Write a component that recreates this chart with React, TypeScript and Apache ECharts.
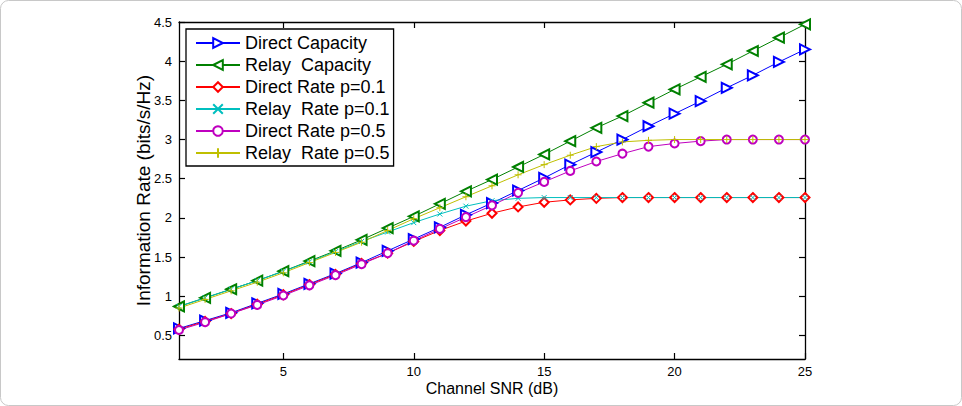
import React, { useEffect, useRef } from "react";
import * as echarts from "echarts";

const snr = [1, 2, 3, 4, 5, 6, 7, 8, 9, 10, 11, 12, 13, 14, 15, 16, 17, 18, 19, 20, 21, 22, 23, 24, 25];
const xTicks = [5, 10, 15, 20, 25];
const yTicks = [0.5, 1, 1.5, 2, 2.5, 3, 3.5, 4, 4.5];

const directCapacity = [0.59, 0.69, 0.79, 0.91, 1.03, 1.16, 1.29, 1.43, 1.58, 1.73, 1.88, 2.04, 2.19, 2.35, 2.51, 2.68, 2.84, 3.0, 3.17, 3.33, 3.49, 3.66, 3.82, 3.99, 4.15];
const relayCapacity = [0.87, 0.98, 1.09, 1.2, 1.32, 1.45, 1.58, 1.72, 1.87, 2.02, 2.18, 2.34, 2.49, 2.65, 2.81, 2.98, 3.15, 3.3, 3.47, 3.64, 3.8, 3.96, 4.13, 4.3, 4.47];
const directRate01 = [0.58, 0.68, 0.78, 0.9, 1.02, 1.15, 1.28, 1.42, 1.55, 1.7, 1.84, 1.96, 2.06, 2.14, 2.2, 2.23, 2.25, 2.26, 2.26, 2.26, 2.26, 2.26, 2.26, 2.26, 2.26];
const relayRate01 = [0.87, 0.98, 1.09, 1.2, 1.32, 1.44, 1.57, 1.7, 1.82, 1.94, 2.05, 2.15, 2.22, 2.25, 2.26, 2.26, 2.26, 2.26, 2.26, 2.26, 2.26, 2.26, 2.26, 2.26, 2.26];
const directRate05 = [0.57, 0.67, 0.78, 0.89, 1.01, 1.14, 1.27, 1.41, 1.55, 1.71, 1.86, 2.01, 2.16, 2.32, 2.46, 2.6, 2.72, 2.82, 2.91, 2.95, 2.98, 3.0, 3.0, 3.0, 3.0];
const relayRate05 = [0.85, 0.96, 1.07, 1.18, 1.3, 1.43, 1.56, 1.69, 1.84, 1.99, 2.13, 2.27, 2.41, 2.55, 2.68, 2.8, 2.91, 2.97, 2.99, 3.0, 3.0, 3.0, 3.0, 3.0, 3.0];

const FONT = "Liberation Sans, Arial, Helvetica, sans-serif";

const seriesDefs = [
  { name: "Direct Capacity", data: directCapacity, color: "#0000ff", symbol: "emptyTriangle", rotate: -90, size: 10 },
  { name: "Relay  Capacity", data: relayCapacity, color: "#008000", symbol: "emptyTriangle", rotate: 90, size: 10 },
  { name: "Direct Rate p=0.1", data: directRate01, color: "#ff0000", symbol: "emptyDiamond", rotate: 0, size: 9 },
  { name: "Relay  Rate p=0.1", data: relayRate01, color: "#00bfbf", symbol: "path://M0,0L10,10M10,0L0,10", rotate: 0, size: 5 },
  { name: "Direct Rate p=0.5", data: directRate05, color: "#bf00bf", symbol: "emptyCircle", rotate: 0, size: 8 },
  { name: "Relay  Rate p=0.5", data: relayRate05, color: "#bfbf00", symbol: "path://M5,0L5,10M0,5L10,5", rotate: 0, size: 7 },
];

export default function App() {
  const ref = useRef<HTMLDivElement>(null);
  useEffect(() => {
    if (!ref.current) return;
    const chart = echarts.init(ref.current, null, { renderer: "svg" });
    const axisLine = { show: true, onZero: false, lineStyle: { color: "#000", width: 1.3 } };
    const tickStyle = { color: "#000", width: 1.2 };
    chart.setOption({
      animation: false,
      backgroundColor: "#fff",
      textStyle: { fontFamily: FONT },
      grid: { left: 179, right: 157, top: 22, bottom: 47 },
      graphic: [
        {
          type: "rect",
          shape: { x: 0.5, y: 0.5, width: 961, height: 405, r: 8 },
          style: { fill: "none", stroke: "#c8c8c8", lineWidth: 1 },
          silent: true,
        },
      ],
      legend: {
        orient: "vertical",
        left: 186,
        top: 29,
        padding: [3, 4, 2, 9],
        itemGap: 0,
        itemWidth: 44,
        itemHeight: 12,
        backgroundColor: "#fff",
        borderColor: "#000",
        borderWidth: 1.3,
        borderRadius: 0,
        textStyle: { fontSize: 18, color: "#000", fontFamily: FONT, lineHeight: 22 },
        data: seriesDefs.map((s) => s.name),
      },
      xAxis: [
        {
          type: "value",
          min: 1,
          max: 25,
          position: "bottom",
          axisLine,
          axisTick: { show: true, inside: true, length: 6, customValues: xTicks, lineStyle: tickStyle },
          axisLabel: { customValues: xTicks, color: "#000", fontSize: 13, margin: 6, fontFamily: FONT },
          splitLine: { show: false },
          name: "Channel SNR (dB)",
          nameLocation: "middle",
          nameGap: 21,
          nameMoveOverlap: false,
          nameTextStyle: { fontSize: 16, color: "#000", fontFamily: FONT },
        },
        {
          type: "value",
          min: 1,
          max: 25,
          position: "top",
          axisLine,
          axisTick: { show: true, inside: true, length: 6, customValues: xTicks, lineStyle: tickStyle },
          axisLabel: { show: false },
          splitLine: { show: false },
        },
      ],
      yAxis: [
        {
          type: "value",
          min: 0.2,
          max: 4.5,
          position: "left",
          axisLine,
          axisTick: { show: true, inside: true, length: 6, customValues: yTicks, lineStyle: tickStyle },
          axisLabel: { customValues: yTicks, color: "#000", fontSize: 13, margin: 7, fontFamily: FONT },
          splitLine: { show: false },
          name: "Information Rate (bits/s/Hz)",
          nameLocation: "middle",
          nameGap: 26,
          nameMoveOverlap: false,
          nameTextStyle: { fontSize: 19, color: "#000", fontFamily: FONT },
        },
        {
          type: "value",
          min: 0.2,
          max: 4.5,
          position: "right",
          axisLine,
          axisTick: { show: true, inside: true, length: 6, customValues: yTicks, lineStyle: tickStyle },
          axisLabel: { show: false },
          splitLine: { show: false },
        },
      ],
      series: seriesDefs.map((s) => ({
        name: s.name,
        type: "line",
        xAxisIndex: 0,
        yAxisIndex: 0,
        data: snr.map((x, i) => [x, s.data[i]]),
        symbol: s.symbol,
        symbolSize: s.size,
        symbolRotate: s.rotate,
        showAllSymbol: true,
        lineStyle: { color: s.color, width: 1 },
        itemStyle: { color: s.color, borderColor: s.color, borderWidth: 1 },
        emphasis: { disabled: true },
      })),
    });
    return () => chart.dispose();
  }, []);
  return (
    <div
      ref={ref}
      style={{ position: "fixed", left: 0, top: 0, width: 962, height: 406 }}
    />
  );
}
